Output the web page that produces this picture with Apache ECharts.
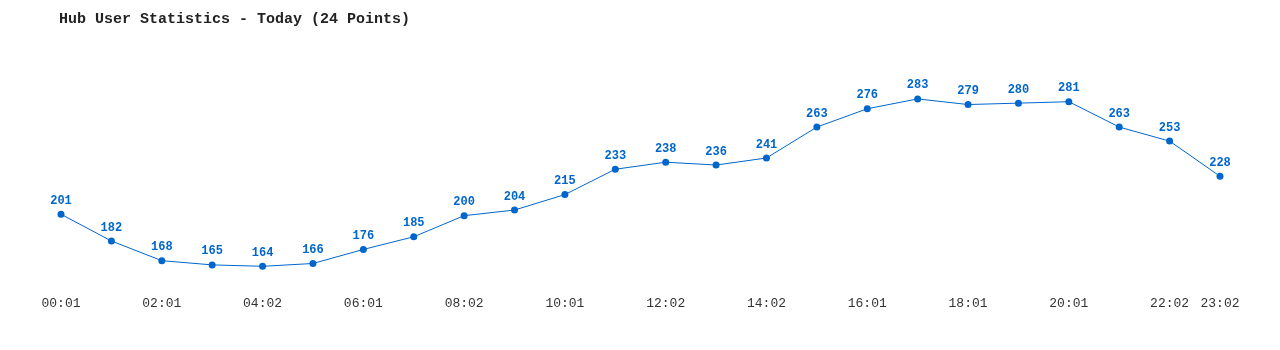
<!DOCTYPE html>
<html>
<head>
<meta charset="utf-8">
<script src="https://cdn.jsdelivr.net/npm/echarts@6/dist/echarts.min.js"></script>
<style>html,body{margin:0;padding:0;background:#fff;}#chart{width:1280px;height:350px;}</style>
</head>
<body>
<div id="chart"></div>
<script>
const categories = ["00:01","01:01","02:01","03:01","04:02","05:01","06:01","07:02","08:02","09:01","10:01","11:02","12:02","13:02","14:02","15:01","16:01","17:01","18:01","19:01","20:01","21:02","22:02","23:02"];
const users = [201,182,168,165,164,166,176,185,200,204,215,233,238,236,241,263,276,283,279,280,281,263,253,228];
const titleText = "Hub User Statistics - Today (24 Points)";

const chart = echarts.init(document.getElementById('chart'));
chart.setOption({
  animation: false,
  title: {
    text: titleText,
    left: 54, top: 7,
    textStyle: { fontFamily: 'Liberation Mono', fontSize: 15, fontWeight: 'bold', color: '#222' }
  },
  grid: { left: 61, right: 60, top: 75, bottom: 64 },
  xAxis: {
    type: 'category',
    data: categories,
    boundaryGap: false,
    axisLine: { show: false },
    axisTick: { show: false },
    splitLine: { show: false },
    axisLabel: {
      interval: function (i) { return i % 2 === 0 || i === categories.length - 1; },
      margin: 11,
      fontFamily: 'Liberation Mono', fontSize: 13, color: '#333'
    }
  },
  yAxis: {
    type: 'value', min: 150, max: 300,
    show: false
  },
  series: [{
    type: 'line',
    data: users,
    lineStyle: { color: '#0066cc', width: 1 },
    itemStyle: { color: '#0066cc' },
    symbol: 'circle', symbolSize: 7,
    label: {
      show: true, position: 'top', distance: 4,
      fontFamily: 'Liberation Mono', fontSize: 12, fontWeight: 'bold', color: '#0066cc'
    }
  }]
});
</script>
</body>
</html>
